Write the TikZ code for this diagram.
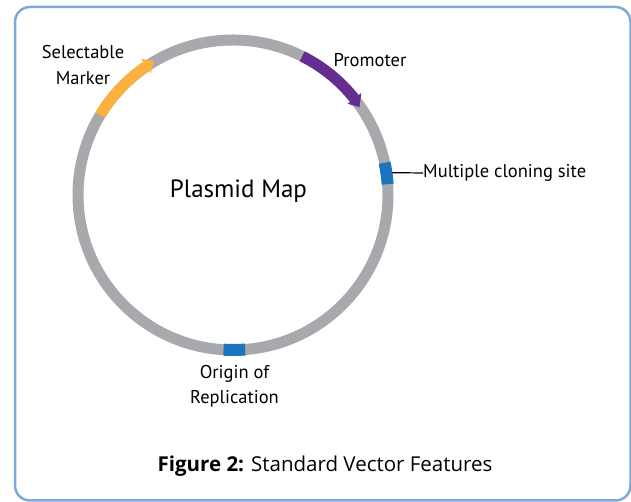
\documentclass[tikz,border=0pt]{standalone}
\usepackage{fontspec}
\usetikzlibrary{calc}
\newfontfamily\labelfont{PT Sans}
\newfontfamily\capfont{Open Sans}
\definecolor{ringgray}{RGB}{167,169,172}
\definecolor{markerorange}{RGB}{251,176,64}
\definecolor{promoterpurple}{RGB}{102,45,145}
\definecolor{siteblue}{RGB}{28,117,188}
\definecolor{frameblue}{RGB}{125,168,218}
\tikzset{
  ringseg/.style={line width=11pt},
  lbl/.style={font=\labelfont\fontsize{18.5}{25.5}\selectfont, inner sep=0pt, align=center},
}
\begin{document}
\begin{tikzpicture}[x=1pt,y=1pt]
\useasboundingbox (0,0) rectangle (631,502);
\draw[frameblue, line width=2.5pt, rounded corners=15pt] (15,1.5) rectangle (630.5,495);
\coordinate (c) at (233,307);
% ring
\draw[ringgray, ringseg] (c) circle (155);
% selectable marker
\draw[markerorange, ringseg] ($(c)+(149:155)$) arc[start angle=149, end angle=123.5, radius=155];
\fill[markerorange] ($(c)+(124:164)$) -- ($(c)+(124:147)$) -- ($(c)+(120.5:156)$) -- cycle;
% promoter
\draw[promoterpurple, ringseg] ($(c)+(63.5:155)$) arc[start angle=63.5, end angle=38, radius=155];
\fill[promoterpurple] ($(c)+(38.5:164)$) -- ($(c)+(38.5:146.5)$) -- ($(c)+(34.8:154)$) -- cycle;
% multiple cloning site
\draw[siteblue, line width=12pt] ($(c)+(4:155)$) arc[start angle=4, end angle=12, radius=155];
% origin
\draw[siteblue, line width=12pt] ($(c)+(266.5:155)$) arc[start angle=266.5, end angle=274.5, radius=155];
% labels
\node[lbl] (marker) at (83,437) {Selectable\\Marker};
\node[lbl] (promoter) at (370,442) {Promoter};
\node[lbl, anchor=west] (mcs) at (423,329) {Multiple cloning site};
\coordinate (mcsout) at ($(c)+(8:160.5)$);
\draw[black, line width=1.2pt] (mcsout) -- (mcs.west);
\node[lbl] (ori) at (234.5,115.5) {Origin of\\Replication};
\node[font=\labelfont\fontsize{25}{28}\selectfont, inner sep=0pt] (map) at (238.5,311) {Plasmid Map};
\node[font=\capfont\fontsize{20.5}{24}\selectfont, inner sep=0pt] (caption) at (325,36) {\textbf{Figure 2:} Standard Vector Features};
\end{tikzpicture}
\end{document}
